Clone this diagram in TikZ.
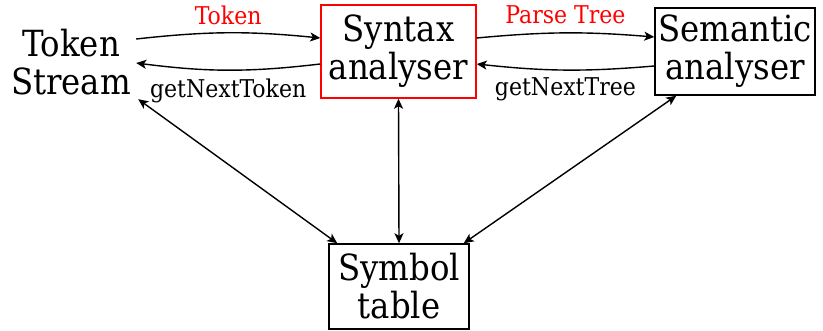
\documentclass[tikz,border=0pt]{standalone}
\usepackage{fontspec}
\setmainfont{DejaVu Serif Condensed}
\usetikzlibrary{arrows.meta,calc}
\tikzset{
  big/.style={font=\fontsize{36}{38}\selectfont, align=center},
  lbl/.style={font=\fontsize{24.5}{27}\selectfont, inner sep=0pt, anchor=base},
  box/.style={draw, line width=1.5pt, big, inner sep=0pt},
  conn/.style={line width=1.4pt, >={Stealth[length=10pt,width=9pt,inset=2.5pt]}},
}
\begin{document}
\begin{tikzpicture}[x=1pt,y=-1pt]
\useasboundingbox (0,0) rectangle (823,331);
\node[big, inner sep=0pt, minimum width=130pt, minimum height=74pt] (ts) at (71,62) {Token\\Stream};
\node[box, draw=red, minimum width=155pt, minimum height=93pt] (syn) at (398.5,51.5) {Syntax\\analyser};
\node[box, minimum width=160pt, minimum height=87pt] (sem) at (735,51.5) {Semantic\\analyser};
\node[box, minimum width=140pt, minimum height=85pt] (sym) at (399,286.5) {Symbol\\table};

\draw[conn,->] ($(ts.east)+(0,-23)$) to[bend left=6]
  node[midway, lbl, text=red, yshift=8pt] {Token} ($(syn.west)+(0,-13.5)$);
\draw[conn,->] ($(syn.west)+(0,12.5)$) to[bend left=7]
  node[midway, lbl, yshift=-27pt] {getNextToken} ($(ts.east)+(0,1)$);
\draw[conn,->] ($(syn.east)+(0,-13.5)$) to[bend left=5]
  node[midway, lbl, text=red, yshift=9pt] {Parse Tree} ($(sem.west)+(0,-14.5)$);
\draw[conn,->] ($(sem.west)+(0,14.5)$) to[bend left=5.5]
  node[midway, lbl, yshift=-26pt] {getNextTree} ($(syn.east)+(0,12.5)$);

\draw[conn,<->] ($(ts.south east)+(2,0)$) -- ($(sym.north west)+(9,0)$);
\draw[conn,<->] (syn.south) -- (sym.north);
\draw[conn,<->] ($(sem.south west)+(22,0)$) -- ($(sym.north east)+(-6,0)$);
\end{tikzpicture}
\end{document}
